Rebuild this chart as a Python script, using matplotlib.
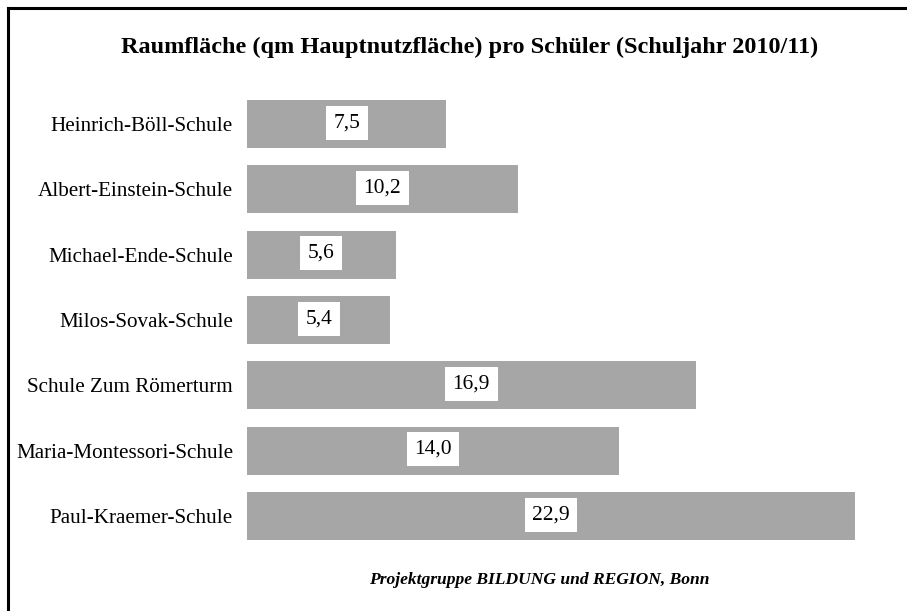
import numpy as np
import matplotlib.pyplot as plt
from matplotlib.lines import Line2D

schulen = ['Heinrich-Böll-Schule', 'Albert-Einstein-Schule', 'Michael-Ende-Schule',
           'Milos-Sovak-Schule', 'Schule Zum Römerturm', 'Maria-Montessori-Schule',
           'Paul-Kraemer-Schule']
werte = [7.5, 10.2, 5.6, 5.4, 16.9, 14.0, 22.9]
titel = 'Raumfläche (qm Hauptnutzfläche) pro Schüler (Schuljahr 2010/11)'
quelle = 'Projektgruppe BILDUNG und REGION, Bonn'

plt.rcParams['font.family'] = ['Liberation Serif', 'DejaVu Serif']

W, H = 907, 611
fig = plt.figure(figsize=(W/100, H/100), dpi=100)
ax = fig.add_axes([247/W, 1 - 548.7/H, (855-247)/W, (548.7-91.3)/H])

y = np.arange(len(schulen))
ax.barh(y, werte, height=0.73, color='#a6a6a6')
ax.set_xlim(0, 22.9)
ax.set_ylim(len(schulen) - 0.5, -0.5)
ax.set_yticks(y)
ax.set_yticklabels(schulen, fontsize=15.2)
ax.tick_params(axis='y', length=0, pad=10)
ax.set_xticks([])
for s in ax.spines.values():
    s.set_visible(False)

for i, v in enumerate(werte):
    ax.text(v/2, i - 0.02, ('%.1f' % v).replace('.', ','), ha='center', va='center',
            fontsize=15.5, bbox=dict(facecolor='white', edgecolor='none', pad=5.5))

fig.text(470/W, 1 - 47/H, titel, ha='center', va='center', fontsize=17.5, fontweight='bold')
fig.text(539/W, 1 - 580/H, quelle, ha='center', va='center', fontsize=12.6,
         fontweight='bold', style='italic')

# Rahmen oben und links
fig.add_artist(Line2D([8/W, 8/W], [0, 1 - 8/H], color='black', lw=2.2))
fig.add_artist(Line2D([8/W, 1], [1 - 8/H, 1 - 8/H], color='black', lw=2.2))

fig.savefig('out.png', dpi=100)
